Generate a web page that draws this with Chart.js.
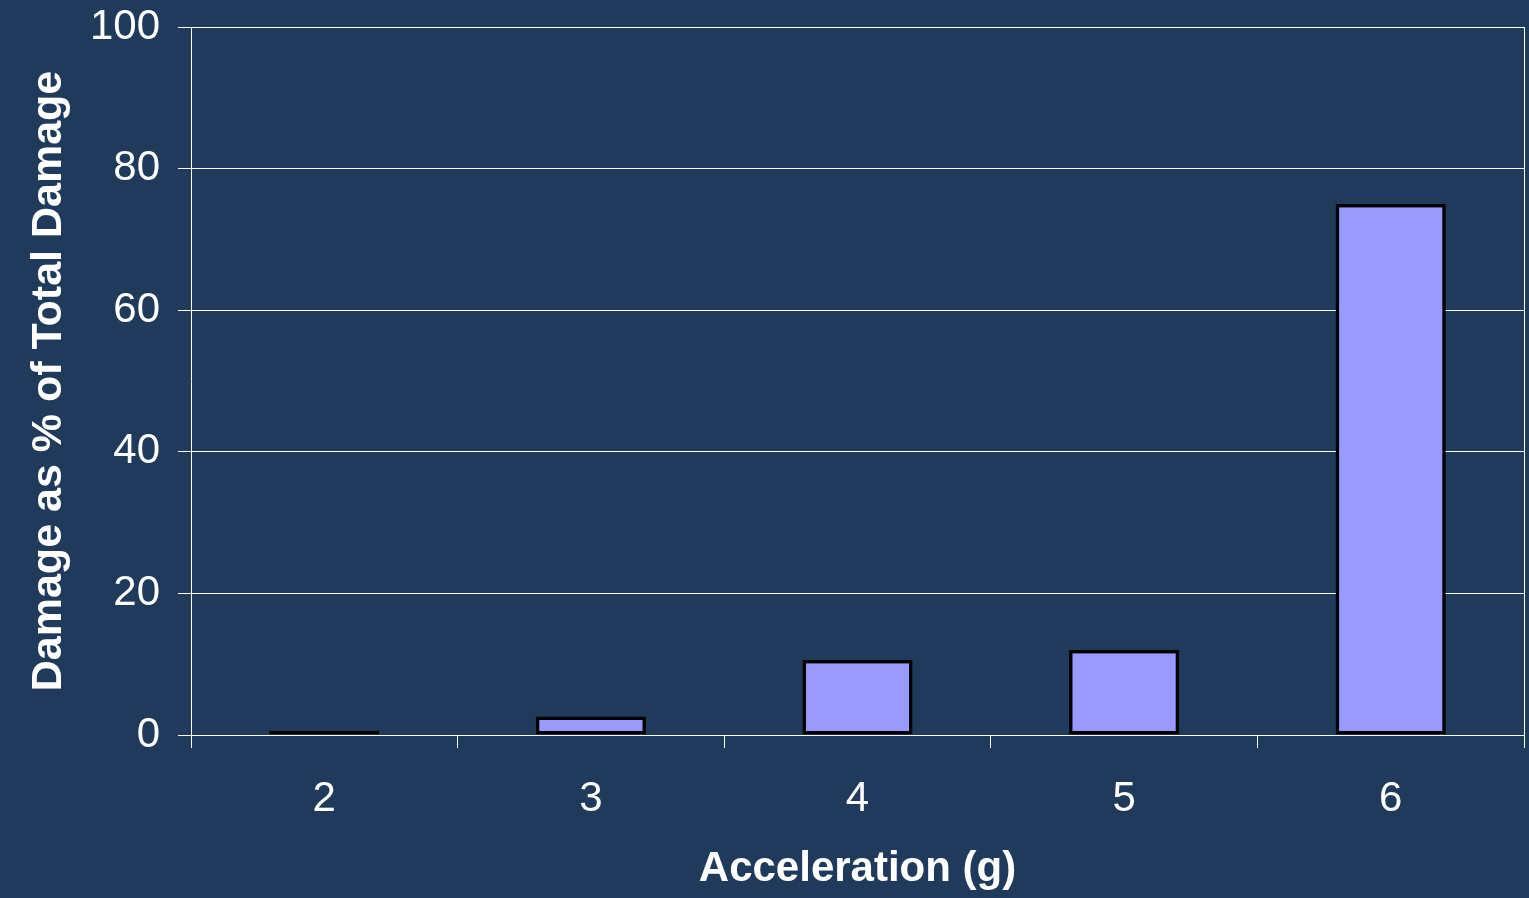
<!DOCTYPE html>
<html>
<head>
<meta charset="utf-8">
<script src="https://cdn.jsdelivr.net/npm/chart.js@4.4.0/dist/chart.umd.min.js"></script>
<style>
  html, body { margin: 0; padding: 0; background: #1F3A5A; }
  canvas { display: block; }
</style>
</head>
<body>
<canvas id="dmgChart" width="1529" height="898"></canvas>
<script>
// Data
const accelLabels = ["2", "3", "4", "5", "6"];
const damagePct = [0.6, 2.6, 10.6, 12.0, 75.0];
const yTicks = [0, 20, 40, 60, 80, 100];

const bgColor = "#1F3A5A";

// paint background and the right-hand frame line
const framePlugin = {
  id: "frame",
  beforeDraw(chart) {
    const c = chart.ctx;
    c.save();
    c.fillStyle = bgColor;
    c.fillRect(0, 0, chart.width, chart.height);
    c.restore();
  },
  afterDraw(chart) {
    const a = chart.chartArea;
    const c = chart.ctx;
    c.save();
    c.strokeStyle = "#ffffff";
    c.lineWidth = 1;
    c.beginPath();
    c.moveTo(Math.round(a.right) + 0.5, a.top);
    c.lineTo(Math.round(a.right) + 0.5, a.bottom);
    c.stroke();
    c.restore();
  }
};

const ctx = document.getElementById("dmgChart");
new Chart(ctx, {
  type: "bar",
  data: {
    labels: accelLabels,
    datasets: [{
      data: damagePct,
      backgroundColor: "#9999FF",
      borderColor: "#000000",
      borderWidth: 3.5,
      borderSkipped: false,
      barPercentage: 0.413,
      categoryPercentage: 1
    }]
  },
  options: {
    responsive: false,
    animation: false,
    layout: { padding: { left: 23, right: 5, top: 0, bottom: 3 } },
    plugins: {
      legend: { display: false },
      tooltip: { enabled: false }
    },
    scales: {
      x: {
        grid: {
          offset: true,
          drawOnChartArea: false,
          color: "#ffffff",
          tickLength: 13
        },
        border: { color: "#ffffff", width: 1 },
        ticks: {
          color: "#ffffff",
          padding: 26,
          font: { family: "'Liberation Sans', Arial, sans-serif", size: 42 }
        },
        title: {
          display: true,
          text: "Acceleration (g)",
          color: "#ffffff",
          padding: { top: 10, bottom: 0 },
          font: { family: "'Liberation Sans', Arial, sans-serif", size: 42, weight: "bold" }
        },
        afterFit(scale) { scale.height = 898 - 735 - 3; }
      },
      y: {
        min: 0,
        max: 100,
        afterBuildTicks(scale) { scale.ticks = yTicks.map(v => ({ value: v })); },
        grid: { color: "#ffffff", tickLength: 13 },
        border: { color: "#ffffff", width: 1 },
        ticks: {
          color: "#ffffff",
          padding: 18,
          font: { family: "'Liberation Sans', Arial, sans-serif", size: 42 }
        },
        title: {
          display: true,
          text: "Damage as % of Total Damage",
          color: "#ffffff",
          padding: { top: 0, bottom: 10 },
          font: { family: "'Liberation Sans', Arial, sans-serif", size: 43, weight: "bold" }
        },
        afterFit(scale) {
          scale.width = 191 - 23;
          scale.paddingTop = 27;
          scale.paddingBottom = 0;
        }
      }
    }
  },
  plugins: [framePlugin]
});
</script>
</body>
</html>
